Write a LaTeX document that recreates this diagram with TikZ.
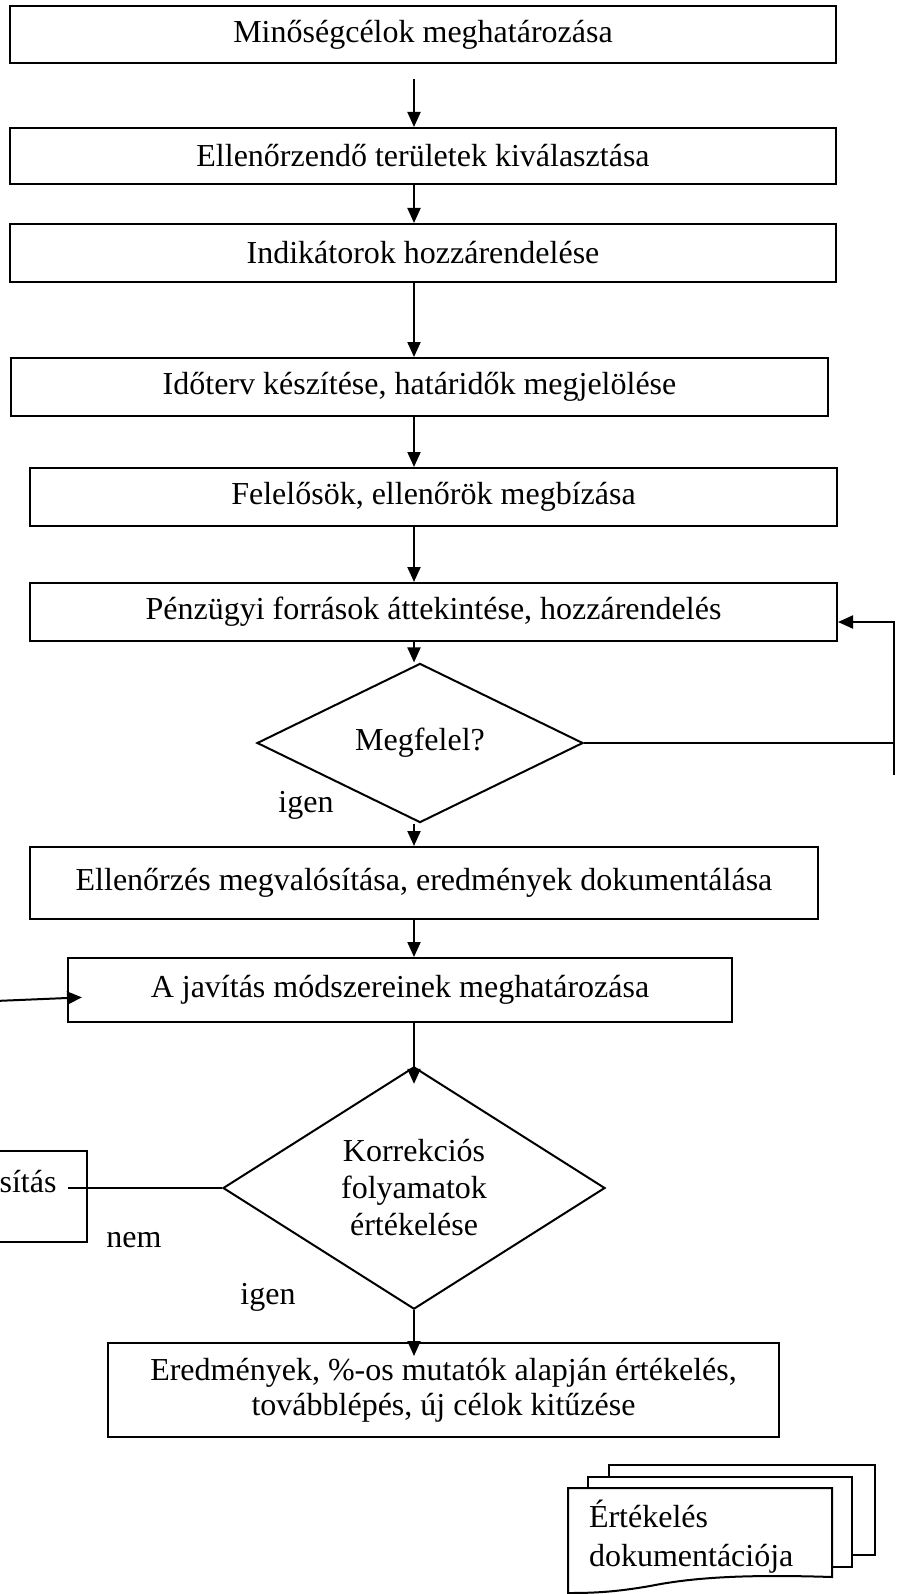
\documentclass[tikz,border=0pt]{standalone}
\usepackage{fontspec}
\setmainfont{Liberation Serif}
\usetikzlibrary{shapes.geometric,arrows.meta}

\begin{document}
\begin{tikzpicture}[x=0.5pt,y=-0.5pt,line width=1pt,
        font=\fontsize{16}{18.5}\selectfont,
        doboz/.style={rectangle,draw,inner sep=0pt,align=center},
        dontes/.style={diamond,draw,inner sep=0pt,align=center},
        nyil/.style={-{Triangle[width=6.5pt,length=7.5pt]}},
        felirat/.style={inner sep=0pt}]

    \useasboundingbox (0,0) rectangle (898,1594);

    % main chain
    \node[doboz, minimum width=413pt, minimum height=28.5pt] (cel) at (423,34.5) {Minőségcélok meghatározása};
    \node[doboz, minimum width=413pt, minimum height=28pt] (ter) at (423,156) {Ellenőrzendő területek kiválasztása};
    \node[doboz, minimum width=413pt, minimum height=29pt] (ind) at (423,253) {Indikátorok hozzárendelése};
    \node[doboz, minimum width=408.5pt, minimum height=29pt] (ido) at (419.5,387) {Időterv készítése, határidők megjelölése};
    \node[doboz, minimum width=403.5pt, minimum height=29pt] (fel) at (433.5,497) {Felelősök, ellenőrök megbízása};
    \node[doboz, minimum width=403.5pt, minimum height=29pt] (penz) at (433.5,612) {Pénzügyi források áttekintése, hozzárendelés};
    \node[dontes, minimum width=163pt, minimum height=65pt] (megf) at (420,743) {\raisebox{2.5pt}{Megfelel?}};
    \node[doboz, minimum width=394pt, minimum height=36pt] (ell) at (424,883) {Ellenőrzés megvalósítása, eredmények dokumentálása};
    \node[doboz, minimum width=332pt, minimum height=32pt] (jav) at (400,990) {A javítás módszereinek meghatározása};
    \node[dontes, minimum width=191pt, minimum height=115pt] (korr) at (414,1188) {Korrekciós\\folyamatok\\értékelése};
    \node[doboz, minimum width=335.5pt, minimum height=47pt, font=\fontsize{16}{17.5}\selectfont] (eredm) at (443.5,1390) {Eredmények, \%-os mutatók alapján értékelés,\\továbblépés, új célok kitűzése};

    % cut-off box on the left
    \node[doboz, minimum width=150pt, minimum height=45.5pt, anchor=east] (megv) at (88,1196.5) {};
    \node[felirat] (megvszoveg) at (28,1182) {sítás};

    % labels
    \node[felirat] (igen1) at (306,805) {igen};
    \node[felirat] (nem) at (134,1240) {nem};
    \node[felirat] (igen2) at (268,1297) {igen};

    \coordinate (tengely) at (414,0);
    \coordinate (jobbfel) at (894,622);
    \coordinate (jobble) at (894,775);
    \coordinate (nemveg) at (68,1188);
    \coordinate (visszaveg) at (-5,1001);

    \draw[nyil, shorten <=7.5pt] (cel.south -| tengely) -- (ter.north -| tengely);
    \draw[nyil] (ter.south -| tengely) -- (ind.north -| tengely);
    \draw[nyil] (ind.south -| tengely) -- (ido.north -| tengely);
    \draw[nyil] (ido.south -| tengely) -- (fel.north -| tengely);
    \draw[nyil] (fel.south -| tengely) -- (penz.north -| tengely);
    \draw[nyil] (penz.south -| tengely) -- (megf.north -| tengely);
    \draw[nyil] (megf.south -| tengely) -- (ell.north -| tengely);
    \draw[nyil] (ell.south -| tengely) -- (jav.north -| tengely);
    \draw[nyil, shorten >=-9pt] (jav.south -| tengely) -- (korr.north);
    \draw[nyil, shorten >=-7pt] (korr.south) -- (eredm.north -| korr.south);

    % feedback
    \draw (megf.east) -- (megf.east -| jobbfel);
    \draw[nyil] (jobble) -- (jobbfel) -- (jobbfel -| penz.east);
    \draw (korr.west) -- (nemveg);
    \draw[nyil, shorten >=-7.5pt] (visszaveg) -- ([yshift=-4pt]jav.west);

    % document stack
    \draw[fill=white] (609,1465) rectangle (875,1555);
    \draw[fill=white] (588,1477) rectangle (852,1567);
    \draw[fill=white] (568,1593) -- (568,1488) -- (832,1488) -- (832,1577)
        .. controls (740,1574) and (690,1578) .. (650,1586)
        .. controls (615,1592) and (595,1593) .. cycle;
    \node[felirat, align=left, anchor=west, font=\fontsize{16}{19.5}\selectfont] (dok) at (588,1537) {Értékelés\\dokumentációja};

\end{tikzpicture}
\end{document}
